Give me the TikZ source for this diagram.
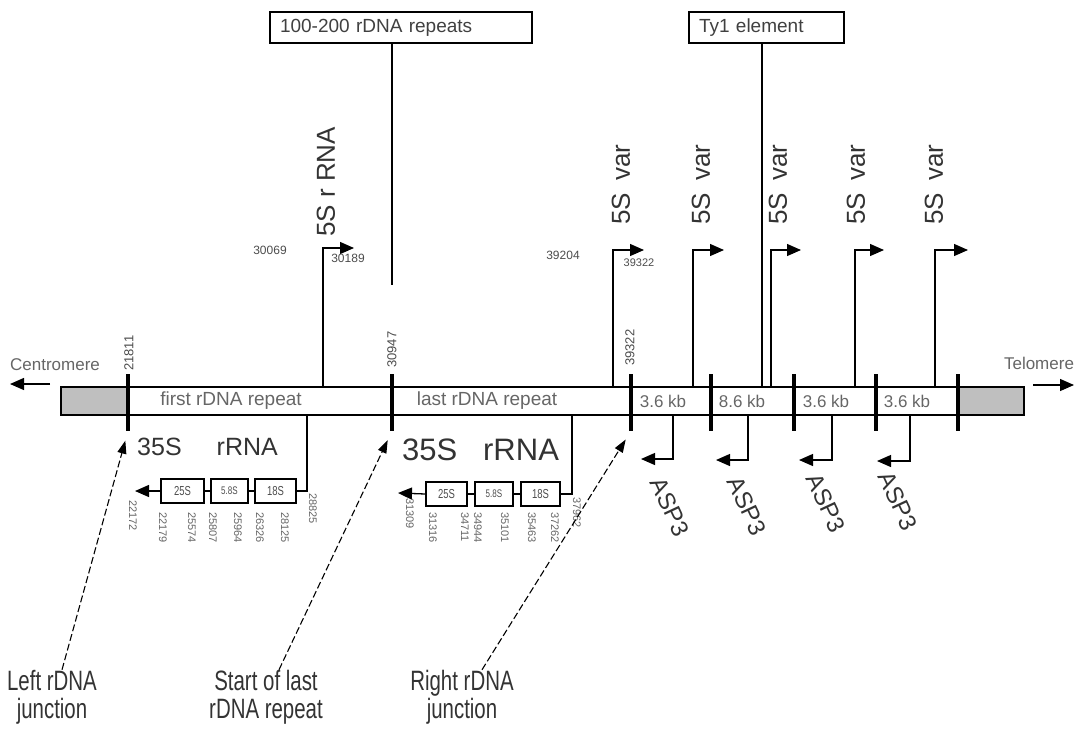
\documentclass[tikz,border=0pt]{standalone}
\usepackage{fontspec}
\setmainfont{Liberation Sans}
\newfontfamily\narrowfont[FakeStretch=0.73]{Liberation Sans}
\usetikzlibrary{arrows.meta, positioning, calc}
\newcommand{\fsz}[1]{\fontsize{#1}{#1}\selectfont}

\begin{document}
\begin{tikzpicture}[
    x=1pt, y=-1pt,
    every node/.style={inner sep=0pt, text=black!80},
    chrom/.style={draw=black, line width=1.2pt},
    junc/.style={line width=3.6pt},
    wire/.style={line width=1.3pt},
    gene/.style={line width=1.3pt, -{Triangle[length=14pt, width=12pt]}},
    pointer/.style={line width=1.1pt, dash pattern=on 7pt off 3pt, -{Triangle[length=13pt, width=9pt]}, shorten >=10pt},
    rbox/.style={draw, line width=1.2pt, fill=white, minimum height=24pt, font=\narrowfont\fsz{13}, text=black!70},
    tagbox/.style={draw, line width=1.3pt, minimum height=31pt, align=left, inner xsep=10pt, font=\fsz{19}, text=black!75},
    coordlab/.style={font=\fsz{11}, text=black!60},
    posnum/.style={font=\fsz{13}, text=black!70},
    seglab/.style={font=\fsz{17}, text=black!60},
    biglab/.style={font=\fsz{26}},
    endlab/.style={font=\fsz{17}, text=black!60},
    junclab/.style={font=\narrowfont\fsz{28}, align=center},
  ]
  \useasboundingbox (0,0) rectangle (1082,729);

  % chromosome bar with grey flanks
  \fill[black!25] (61,387) rectangle (128,415);
  \fill[black!25] (958,387) rectangle (1024,415);
  \draw[chrom] (61,387) rectangle (1024,415);

  % junction ticks
  \foreach \x [count=\i] in {128,392,631,711,794,876,958} {
    \draw[junc] (\x,374) coordinate (j\i up) -- (\x,431) coordinate (j\i);
  }
  \node[posnum, rotate=90, anchor=west] (n21811) at (129,371) {21811};
  \node[posnum, rotate=90, anchor=west] (n30947) at (392,368) {30947};
  \node[posnum, rotate=90, anchor=west] (n39322) at (630,366) {39322};

  % chromosome ends
  \node[endlab] (cen) at (55,365) {Centromere};
  \node[endlab] (tel) at (1039,363) {Telomere};
  \coordinate (cen0) at (50,384);
  \coordinate (cenarr) at (10,384);
  \coordinate (tel0) at (1033,385);
  \coordinate (telarr) at (1074,385);
  \draw[gene] (cen0) -- (cenarr);
  \draw[gene] (tel0) -- (telarr);

  % segment labels inside the bar
  \node[seglab, font=\fsz{19}] (first) at (231,401) {first rDNA repeat};
  \node[seglab, font=\fsz{19}] (last) at (487,401) {last rDNA repeat};
  \foreach \x/\t [count=\i] in {663/3.6 kb, 742/8.6 kb, 826/3.6 kb, 907/3.6 kb} {
    \node[seglab] (kb\i) at (\x,401) {\t};
  }

  % boxes on top
  \node[tagbox, text width=242pt] (rep) at (401,27.5) {100-200 rDNA repeats};
  \node[tagbox, text width=135pt] (ty1) at (766.5,27.5) {Ty1 element};
  \coordinate (repend) at (392,285);
  \coordinate (tyend) at (762,387);
  \draw[wire] (rep.south -| repend) -- (repend);
  \draw[wire] (ty1.south -| tyend) -- (tyend);

  % 5S rRNA of the first repeat
  \coordinate (s0) at (323,387);
  \coordinate (s0tip) at (354,248);
  \draw[gene] (s0) |- (s0tip);
  \node[biglab, rotate=90, anchor=west] (s0lab) at (326,237) {5S r RNA};
  \node[posnum, font=\fsz{12}] (p30069) at (270,250) {30069};
  \node[posnum, font=\fsz{12}] (p30189) at (348,258) {30189};

  % 5S var genes
  \foreach \x/\tip/\lx in {613/644/621, 693/724/701, 771/801/778, 855/884/856, 935/968/934} {
    \coordinate (v\x) at (\x,387);
    \coordinate (v\x tip) at (\tip,250);
    \draw[gene] (v\x) |- (v\x tip);
    \node[biglab, rotate=90, anchor=west] (var\x) at (\lx,225) {5S\hspace{5pt} var};
  }
  \node[posnum, font=\fsz{12}] (p39204) at (563,255) {39204};
  \node[posnum, font=\fsz{11}] (p39322) at (639,263) {39322};

  % ASP3 genes
  \foreach \x/\tip/\y/\lx/\ly [count=\i] in {673/641/459/670/507, 748/716/460/747/506, 832/799/460/826/503, 910/877/461/898/501} {
    \coordinate (a\i) at (\x,415);
    \coordinate (a\i tip) at (\tip,\y);
    \draw[gene] (a\i) |- (a\i tip);
    \node[biglab, font=\fsz{24}, rotate=-65] (asp\i) at (\lx,\ly) {ASP3};
  }

  % 35S rRNA, first repeat
  \node[biglab, font=\fsz{25}] (r1lab) at (207.5,447) {35S\hspace{35pt}rRNA};
  \coordinate (r1) at (307,415);
  \coordinate (r1tip) at (135,491);
  \node[rbox, minimum width=43pt] (r1a) at (182.5,491) {25S};
  \node[rbox, minimum width=37pt, font=\narrowfont\fsz{11}] (r1b) at (229.5,491) {5.8S};
  \node[rbox, minimum width=41pt] (r1c) at (275.5,491) {18S};
  \draw[wire] (r1) |- (r1c.east);
  \draw[wire] (r1c.west) -- (r1b.east);
  \draw[wire] (r1b.west) -- (r1a.east);
  \draw[gene] (r1a.west) -- (r1tip);
  \foreach \x/\y/\t in {133/500/22172, 163/512/22179, 192/512/25574, 213/512/25807,
                        238/512/25964, 260/512/26326, 285/512/28125, 313/493/28825} {
    \node[coordlab, rotate=-90, anchor=west] (c\t) at (\x,\y) {\t};
  }

  % 35S rRNA, last repeat
  \node[biglab, font=\fsz{31}] (r2lab) at (480.5,450) {35S\hspace{26pt}rRNA};
  \coordinate (r2) at (572,415);
  \coordinate (r2tip) at (398,493);
  \node[rbox, minimum width=41pt] (r2a) at (446.5,494) {25S};
  \node[rbox, minimum width=38pt, font=\narrowfont\fsz{11}] (r2b) at (494,494) {5.8S};
  \node[rbox, minimum width=39pt] (r2c) at (540.5,494) {18S};
  \draw[wire] (r2) |- (r2c.east);
  \draw[wire] (r2c.west) -- (r2b.east);
  \draw[wire] (r2b.west) -- (r2a.east);
  \draw[gene] (r2a.west) -- (r2tip);
  \foreach \x/\y/\t in {410/498/31309, 433/512/31316, 465/512/34711, 478/512/34944,
                        505/512/35101, 532/512/35463, 555/512/37262, 577/497/37962} {
    \node[coordlab, rotate=-90, anchor=west] (c\t) at (\x,\y) {\t};
  }

  % junction call-outs
  \node[junclab] (ljunc) at (52,697) {Left rDNA\\junction};
  \node[junclab] (srep) at (266,697) {Start of last\\rDNA repeat};
  \node[junclab] (rjunc) at (462,697) {Right rDNA\\junction};
  \draw[pointer] ($(ljunc.north)+(10,0)$) -- (j1);
  \draw[pointer] ($(srep.north)+(13,0)$) -- (j2);
  \draw[pointer] ($(rjunc.north)+(20,0)$) -- (j3);

\end{tikzpicture}
\end{document}
